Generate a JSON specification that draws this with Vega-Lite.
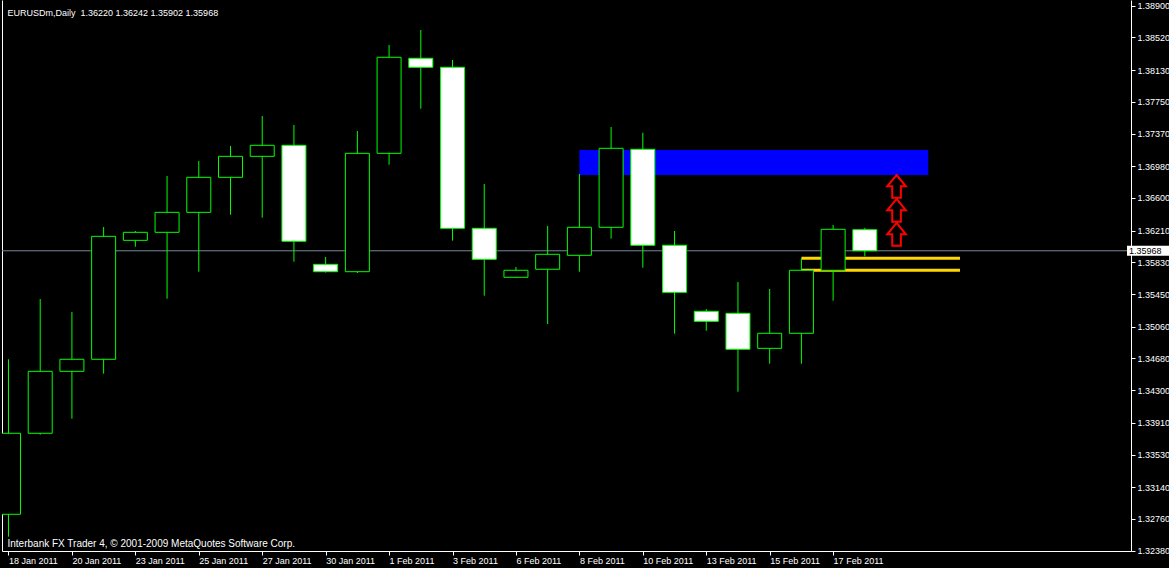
{
  "$schema": "https://vega.github.io/schema/vega-lite/v6.json",
  "width": 1129,
  "height": 551,
  "padding": {"left": 2, "top": 0, "right": 38, "bottom": 17},
  "autosize": {"type": "none"},
  "background": "#000000",
  "config": {
    "view": {"stroke": null},
    "font": "Liberation Sans, sans-serif",
    "axis": {"grid": false, "labelFont": "Liberation Sans, sans-serif", "titleFont": "Liberation Sans, sans-serif"}
  },
  "datasets": {
    "candles": [
      {"i": 0, "date": "18 Jan 2011", "open": 1.32816, "high": 1.34670, "low": 1.32548, "close": 1.33785},
      {"i": 1, "date": "19 Jan 2011", "open": 1.33785, "high": 1.35391, "low": 1.33768, "close": 1.34526},
      {"i": 2, "date": "20 Jan 2011", "open": 1.34526, "high": 1.35236, "low": 1.33959, "close": 1.34670},
      {"i": 3, "date": "21 Jan 2011", "open": 1.34670, "high": 1.36253, "low": 1.34498, "close": 1.36141},
      {"i": 4, "date": "23 Jan 2011", "open": 1.36093, "high": 1.36205, "low": 1.36017, "close": 1.36189},
      {"i": 5, "date": "24 Jan 2011", "open": 1.36189, "high": 1.36863, "low": 1.35395, "close": 1.36428},
      {"i": 6, "date": "25 Jan 2011", "open": 1.36428, "high": 1.37042, "low": 1.35718, "close": 1.36847},
      {"i": 7, "date": "26 Jan 2011", "open": 1.36847, "high": 1.37222, "low": 1.36400, "close": 1.37098},
      {"i": 8, "date": "27 Jan 2011", "open": 1.37098, "high": 1.37581, "low": 1.36364, "close": 1.37230},
      {"i": 9, "date": "28 Jan 2011", "open": 1.37230, "high": 1.37473, "low": 1.35838, "close": 1.36082},
      {"i": 10, "date": "30 Jan 2011", "open": 1.35806, "high": 1.35894, "low": 1.35708, "close": 1.35718},
      {"i": 11, "date": "31 Jan 2011", "open": 1.35718, "high": 1.37401, "low": 1.35702, "close": 1.37134},
      {"i": 12, "date": "1 Feb 2011", "open": 1.37134, "high": 1.38430, "low": 1.36998, "close": 1.38283},
      {"i": 13, "date": "2 Feb 2011", "open": 1.38271, "high": 1.38609, "low": 1.37668, "close": 1.38163},
      {"i": 14, "date": "3 Feb 2011", "open": 1.38163, "high": 1.38250, "low": 1.36089, "close": 1.36237},
      {"i": 15, "date": "4 Feb 2011", "open": 1.36237, "high": 1.36767, "low": 1.35431, "close": 1.35866},
      {"i": 16, "date": "6 Feb 2011", "open": 1.35651, "high": 1.35774, "low": 1.35642, "close": 1.35735},
      {"i": 17, "date": "7 Feb 2011", "open": 1.35747, "high": 1.36265, "low": 1.35092, "close": 1.35926},
      {"i": 18, "date": "8 Feb 2011", "open": 1.35914, "high": 1.36887, "low": 1.35718, "close": 1.36249},
      {"i": 19, "date": "9 Feb 2011", "open": 1.36249, "high": 1.37449, "low": 1.36113, "close": 1.37194},
      {"i": 20, "date": "10 Feb 2011", "open": 1.37182, "high": 1.37381, "low": 1.35766, "close": 1.36034},
      {"i": 21, "date": "11 Feb 2011", "open": 1.36034, "high": 1.36205, "low": 1.34976, "close": 1.35471},
      {"i": 22, "date": "13 Feb 2011", "open": 1.35244, "high": 1.35272, "low": 1.35012, "close": 1.35124},
      {"i": 23, "date": "14 Feb 2011", "open": 1.35220, "high": 1.35595, "low": 1.34282, "close": 1.34790},
      {"i": 24, "date": "15 Feb 2011", "open": 1.34801, "high": 1.35511, "low": 1.34617, "close": 1.34981},
      {"i": 25, "date": "16 Feb 2011", "open": 1.34981, "high": 1.35878, "low": 1.34617, "close": 1.35735},
      {"i": 26, "date": "17 Feb 2011", "open": 1.35735, "high": 1.36277, "low": 1.35371, "close": 1.36225},
      {"i": 27, "date": "18 Feb 2011", "open": 1.36220, "high": 1.36242, "low": 1.35902, "close": 1.35968}
    ],
    "zones": [{"i": 18, "i2": 29, "top": 1.37174, "bottom": 1.36875}],
    "levels": [
      {"i": 25, "i2": 30, "p": 1.35878},
      {"i": 25, "i2": 30, "p": 1.35735}
    ],
    "arrows": [
      {"i": 28, "p": 1.36739},
      {"i": 28, "p": 1.36452},
      {"i": 28, "p": 1.36165}
    ],
    "bid": [{"p": 1.35968, "label": "1.35968"}]
  },
  "resolve": {"axis": {"x": "independent", "y": "independent"}},
  "layer": [
    {
      "data": {"name": "zones"},
      "mark": {"type": "rect", "color": "#0000ff"},
      "encoding": {
        "x": {
          "field": "i", "type": "quantitative",
          "scale": {"domain": [-0.046875, 35.234375], "nice": false, "zero": false},
          "axis": {
            "values": [0, 2, 4, 6, 8, 10, 12, 14, 16, 18, 20, 22, 24, 26],
            "labelExpr": "['18 Jan 2011','20 Jan 2011','23 Jan 2011','25 Jan 2011','27 Jan 2011','30 Jan 2011','1 Feb 2011','3 Feb 2011','6 Feb 2011','8 Feb 2011','10 Feb 2011','13 Feb 2011','15 Feb 2011','17 Feb 2011'][round(datum.value/2)]",
            "labelAlign": "left", "labelBaseline": "top", "labelPadding": 1,
            "labelColor": "#ffffff", "labelFontSize": 9,
            "labelFlush": false, "labelOverlap": false, "labelBound": false,
            "tickColor": "#ffffff", "tickSize": 4, "domainColor": "#ffffff",
            "title": "Interbank FX Trader 4, © 2001-2009 MetaQuotes Software Corp.",
            "titleColor": "#ffffff", "titleFontSize": 10, "titleFontWeight": "normal",
            "titleX": 5, "titleY": -5, "titleAlign": "left", "titleBaseline": "alphabetic"
          }
        },
        "x2": {"field": "i2"},
        "y": {
          "field": "top", "type": "quantitative",
          "scale": {"domain": [1.323766, 1.389682], "nice": false, "zero": false},
          "axis": {"orient": "left", "labels": false, "ticks": false, "domainColor": "#ffffff", "title": null}
        },
        "y2": {"field": "bottom"}
      }
    },
    {
      "data": {"name": "levels"},
      "mark": {"type": "rule", "color": "#ffd700", "strokeWidth": 3},
      "encoding": {
        "x": {"field": "i", "type": "quantitative", "axis": null},
        "x2": {"field": "i2"},
        "y": {"field": "p", "type": "quantitative", "axis": null}
      }
    },
    {
      "data": {"name": "bid"},
      "mark": {"type": "rule", "color": "#778899", "strokeWidth": 1},
      "encoding": {
        "y": {"field": "p", "type": "quantitative", "axis": null}
      }
    },
    {
      "data": {"name": "candles"},
      "mark": {"type": "rule", "color": "#00ff00", "strokeWidth": 1, "clip": true},
      "encoding": {
        "x": {"field": "i", "type": "quantitative", "axis": null},
        "y": {"field": "low", "type": "quantitative", "axis": null},
        "y2": {"field": "high"}
      }
    },
    {
      "data": {"name": "candles"},
      "mark": {"type": "bar", "orient": "vertical", "size": 24, "stroke": "#00ff00", "strokeWidth": 1, "clip": true},
      "encoding": {
        "x": {"field": "i", "type": "quantitative", "axis": null},
        "y": {
          "field": "open", "type": "quantitative",
          "axis": {
            "orient": "right",
            "values": [1.389, 1.3852, 1.3813, 1.3775, 1.3737, 1.3698, 1.366, 1.3621, 1.3583, 1.3545, 1.3506, 1.3468, 1.343, 1.3391, 1.3353, 1.3314, 1.3276, 1.3238],
            "format": ".5f",
            "labelColor": "#ffffff", "labelFontSize": 9, "labelPadding": 2, "labelBaseline": "middle",
            "labelFlush": false, "labelOverlap": false, "labelBound": false,
            "tickColor": "#ffffff", "tickSize": 4, "domainColor": "#ffffff",
            "title": "EURUSDm,Daily\u00a0 1.36220 1.36242 1.35902 1.35968",
            "titleAngle": 0, "titleX": -1124, "titleY": 15, "titleAlign": "left", "titleBaseline": "alphabetic",
            "titleColor": "#ffffff", "titleFontSize": 9, "titleFontWeight": "normal"
          }
        },
        "y2": {"field": "close"},
        "fill": {"condition": {"test": "datum.close < datum.open", "value": "#ffffff"}, "value": "#000000"}
      }
    },
    {
      "data": {"name": "arrows"},
      "mark": {"type": "point", "shape": "M0,-1L0.82,0L0.38,0L0.38,1L-0.38,1L-0.38,0L-0.82,0Z", "size": 515, "fill": "#000000", "stroke": "#ff0000", "strokeWidth": 2, "opacity": 1},
      "encoding": {
        "x": {"field": "i", "type": "quantitative", "axis": null},
        "y": {"field": "p", "type": "quantitative", "axis": null}
      }
    },
    {
      "data": {"name": "bid"},
      "mark": {"type": "rect", "color": "#ffffff"},
      "encoding": {
        "x": {"datum": 35.2656, "type": "quantitative", "axis": null},
        "x2": {"datum": 36.6},
        "y": {"datum": 1.36028, "type": "quantitative", "axis": null},
        "y2": {"datum": 1.35908}
      }
    },
    {
      "data": {"name": "bid"},
      "mark": {"type": "text", "color": "#000000", "align": "left", "baseline": "middle", "fontSize": 9},
      "encoding": {
        "x": {"datum": 35.33, "type": "quantitative", "axis": null},
        "y": {"field": "p", "type": "quantitative", "axis": null},
        "text": {"field": "label"}
      }
    }
  ]
}
